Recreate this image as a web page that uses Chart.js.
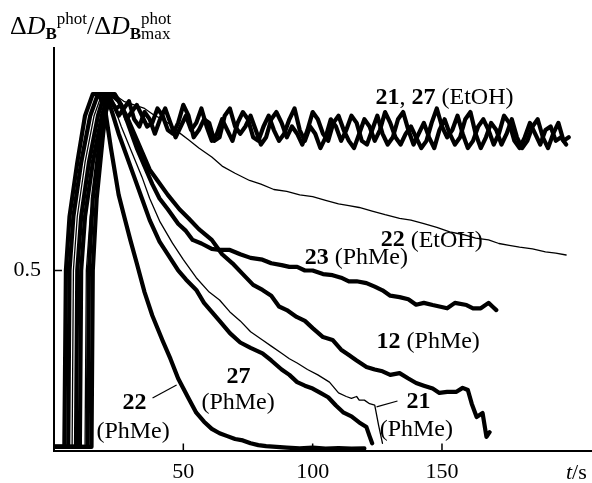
<!DOCTYPE html>
<html>
<head>
<meta charset="utf-8">
<script src="https://cdn.jsdelivr.net/npm/chart.js@4"></script>
<style>
  html, body { margin: 0; background: #fff; }
  #wrap { width: 592px; height: 483px; }
</style>
</head>
<body>
<div id="wrap"><canvas id="c"></canvas></div>
<script>
// tick values
const xTicks = [50, 100, 150];
const yTicks = [0.5];

// 22 (PhMe)
const t22PhMe = [0, 4, 4.6, 6, 9, 12, 15, 17, 19.5, 22, 25, 27.5, 29.5, 32, 35, 38, 42, 45, 48, 52, 55, 58, 61, 64, 67, 70, 73, 76, 79, 82, 86, 90, 95, 100, 105, 110, 115, 120];
const v22PhMe = [0.01, 0.01, 0.5, 0.65, 0.8, 0.93, 0.99, 0.99, 0.96, 0.84, 0.71, 0.64, 0.585, 0.52, 0.44, 0.375, 0.305, 0.255, 0.2, 0.145, 0.105, 0.08, 0.06, 0.048, 0.04, 0.032, 0.028, 0.02, 0.015, 0.012, 0.01, 0.008, 0.006, 0.008, 0.005, 0.007, 0.005, 0.006];

// 27 (PhMe)
const t27PhMe = [0, 5.5, 6, 7.5, 10.5, 14, 17, 19.5, 22, 25, 28, 31, 34, 37, 40.8, 44, 48, 51, 55, 58, 61, 64, 68, 72, 76, 80.6, 84, 88, 91, 94, 97, 100, 103, 106, 109, 112, 115, 118, 120.8, 122, 123];
const v27PhMe = [0.01, 0.01, 0.5, 0.65, 0.8, 0.93, 0.99, 0.99, 0.95, 0.88, 0.82, 0.76, 0.70, 0.64, 0.58, 0.545, 0.50, 0.475, 0.446, 0.41, 0.385, 0.36, 0.326, 0.30, 0.285, 0.27, 0.25, 0.225, 0.21, 0.19, 0.18, 0.172, 0.16, 0.148, 0.125, 0.105, 0.095, 0.078, 0.065, 0.04, 0.02];

// 21 (PhMe)
const t21PhMe = [0, 7, 7.5, 9, 12, 15.5, 18.5, 21, 23, 26, 30, 34, 37, 41, 45.8, 50, 55, 60, 64, 68, 72, 76, 80.6, 84, 88, 91, 94, 98, 102, 106.5, 110, 113, 115, 117, 118, 120, 122, 124, 125.5, 127];
const v21PhMe = [0.01, 0.01, 0.5, 0.65, 0.8, 0.93, 0.99, 0.99, 0.96, 0.9, 0.83, 0.76, 0.70, 0.635, 0.576, 0.53, 0.48, 0.44, 0.418, 0.385, 0.36, 0.33, 0.307, 0.29, 0.27, 0.255, 0.243, 0.225, 0.21, 0.19, 0.16, 0.15, 0.145, 0.15, 0.14, 0.14, 0.13, 0.126, 0.07, 0.02];

// 12 (PhMe)
const t12PhMe = [0, 8.5, 9, 10.5, 13.5, 17, 19.5, 22, 25, 28, 31, 34, 37, 40, 44, 48.5, 52, 56, 61, 65, 69, 73, 77, 80.6, 84, 87, 90, 93.8, 97, 100, 104, 107.7, 111, 114, 117, 120.8, 124, 127, 130, 133.6, 137, 140, 143, 146.4, 149, 152, 155.6, 158, 160, 161.5, 163.4, 165.7, 167.2, 168.4];
const v12PhMe = [0.01, 0.01, 0.5, 0.65, 0.8, 0.93, 0.99, 0.99, 0.97, 0.93, 0.88, 0.83, 0.78, 0.75, 0.71, 0.67, 0.645, 0.615, 0.585, 0.545, 0.52, 0.49, 0.46, 0.446, 0.43, 0.40, 0.39, 0.371, 0.36, 0.34, 0.315, 0.307, 0.28, 0.265, 0.25, 0.232, 0.225, 0.22, 0.21, 0.215, 0.2, 0.1875, 0.18, 0.172, 0.16, 0.163, 0.163, 0.174, 0.168, 0.13, 0.093, 0.104, 0.038, 0.051];

// 23 (PhMe)
const t23PhMe = [0, 10, 10.5, 12, 15, 18.5, 21, 23.5, 26, 29, 32, 35, 38, 40.8, 44, 48, 51, 53.6, 57, 61, 64, 68, 72, 76, 80.6, 84, 88, 91, 94, 97, 100, 104, 107.7, 111, 114, 117, 120.8, 124, 127, 130, 133.6, 137, 140, 143, 146.4, 149, 152, 155, 159.5, 162, 165, 168, 169.5, 171];
const v23PhMe = [0.01, 0.01, 0.5, 0.65, 0.8, 0.93, 0.99, 0.99, 0.96, 0.9, 0.84, 0.79, 0.74, 0.70, 0.67, 0.63, 0.61, 0.585, 0.575, 0.56, 0.557, 0.557, 0.545, 0.535, 0.53, 0.52, 0.515, 0.51, 0.51, 0.50, 0.50, 0.49, 0.487, 0.48, 0.47, 0.47, 0.465, 0.455, 0.445, 0.43, 0.426, 0.42, 0.405, 0.41, 0.404, 0.4, 0.395, 0.41, 0.404, 0.395, 0.395, 0.41, 0.4, 0.39];

// 22 (EtOH)
const t22EtOH = [0, 12, 12.5, 14, 17, 20, 23, 27, 31, 35, 39, 42, 45, 48, 52, 56, 61, 65, 70, 75.6, 80, 85, 90, 95, 100, 105, 110, 114, 118, 123, 128, 133.6, 138, 143, 148, 153, 158, 163, 168, 172, 176, 180, 185, 190, 194, 198];
const v22EtOH = [0.01, 0.01, 0.5, 0.65, 0.8, 0.93, 0.99, 0.97, 0.96, 0.95, 0.93, 0.92, 0.905, 0.885, 0.863, 0.84, 0.815, 0.79, 0.77, 0.75, 0.74, 0.725, 0.72, 0.71, 0.705, 0.695, 0.685, 0.68, 0.675, 0.665, 0.655, 0.645, 0.64, 0.63, 0.62, 0.607, 0.6, 0.59, 0.585, 0.575, 0.57, 0.565, 0.56, 0.552, 0.548, 0.543];

// 21 (EtOH)
const t21EtOH = [0, 13, 13.5, 15, 18, 20.5,
  22, 24, 26, 28, 30, 32, 34, 36, 38, 40, 42, 44, 46, 48, 50, 52, 54, 56, 58, 60, 62, 64, 66, 68, 70, 72, 74, 76, 78, 80,
  82, 84, 86, 88, 90, 92, 94, 96, 98, 100, 102, 104, 106, 108, 110, 112, 114, 116, 118, 120, 122, 124, 126, 128, 130, 132,
  134, 136, 138, 140, 142, 144, 146, 148, 150, 152, 154, 156, 158, 160, 162, 164, 166, 168, 170, 172, 174, 176, 178, 180,
  182, 184, 186, 188, 190, 192, 194, 196, 198];
const v21EtOH = [0.01, 0.01, 0.5, 0.7, 0.88, 0.99,
  0.97, 0.95, 0.96, 0.92, 0.94, 0.96, 0.93, 0.90, 0.91, 0.95,
  0.93, 0.89, 0.88, 0.91, 0.96, 0.93, 0.87, 0.89, 0.92, 0.91,
  0.86, 0.87, 0.93, 0.95, 0.90, 0.88, 0.90, 0.93, 0.89, 0.85,
  0.87, 0.92, 0.94, 0.91, 0.87, 0.90, 0.88, 0.85, 0.89, 0.94,
  0.92, 0.88, 0.86, 0.91, 0.93, 0.89, 0.86, 0.84, 0.88, 0.92,
  0.90, 0.86, 0.89, 0.94, 0.91, 0.87, 0.85, 0.88, 0.90, 0.87,
  0.84, 0.86, 0.91, 0.95, 0.90, 0.87, 0.89, 0.93, 0.88, 0.84,
  0.86, 0.90, 0.92, 0.89, 0.85, 0.88, 0.93, 0.91, 0.86, 0.84,
  0.87, 0.91, 0.88, 0.85, 0.89, 0.90, 0.86, 0.87, 0.85];

// 27 (EtOH)
const t27EtOH = [0, 14.5, 15, 16.5, 19, 21,
  23, 25, 27, 29, 31, 33, 35, 37, 39, 41, 43, 45, 47, 49, 51, 53, 55, 57, 59, 61, 63, 65, 67, 69, 71, 73, 75, 77, 79, 81,
  83, 85, 87, 89, 91, 93, 95, 97, 99, 101, 103, 105, 107, 109, 111, 113, 115, 117, 119, 121, 123, 125, 127, 129, 131, 133,
  135, 137, 139, 141, 143, 145, 147, 149, 151, 153, 155, 157, 159, 161, 163, 165, 167, 169, 171, 173, 175, 177, 179, 181,
  183, 185, 187, 189, 191, 193, 195, 197, 199];
const v27EtOH = [0.01, 0.01, 0.5, 0.7, 0.88, 0.99,
  0.96, 0.93, 0.95, 0.97, 0.92, 0.90, 0.94, 0.92, 0.88, 0.92,
  0.95, 0.91, 0.87, 0.90, 0.93, 0.89, 0.91, 0.95, 0.90, 0.86,
  0.88, 0.92, 0.89, 0.86, 0.91, 0.94, 0.92, 0.87, 0.86, 0.90,
  0.93, 0.89, 0.86, 0.88, 0.92, 0.95, 0.89, 0.86, 0.90, 0.88,
  0.84, 0.87, 0.92, 0.90, 0.86, 0.89, 0.93, 0.91, 0.86, 0.85,
  0.89, 0.93, 0.88, 0.85, 0.87, 0.92, 0.94, 0.89, 0.85, 0.88,
  0.91, 0.87, 0.84, 0.89, 0.92, 0.88, 0.85, 0.87, 0.92, 0.94,
  0.88, 0.84, 0.87, 0.91, 0.89, 0.85, 0.88, 0.92, 0.87, 0.84,
  0.86, 0.90, 0.92, 0.87, 0.84, 0.88, 0.91, 0.86, 0.87];

const serif = "'Liberation Serif', 'Times New Roman', serif";

// curve labels, anchored in data units (left edge, vertical middle)
const notes = [
  { t: 124.3, v: 0.979, runs: [['21', true], [', ', false], ['27', true], [' (EtOH)', false]] },
  { t: 126.3, v: 0.584, runs: [['22', true], [' (EtOH)', false]] },
  { t: 96.9, v: 0.535, runs: [['23', true], [' (PhMe)', false]] },
  { t: 124.7, v: 0.301, runs: [['12', true], [' (PhMe)', false]] },
  { t: 136.3, v: 0.135, runs: [['21', true]] },
  { t: 125.9, v: 0.057, runs: [['(PhMe)', false]] },
  { t: 66.7, v: 0.204, runs: [['27', true]] },
  { t: 57.0, v: 0.132, runs: [['(PhMe)', false]] },
  { t: 26.5, v: 0.132, runs: [['22', true]] },
  { t: 16.4, v: 0.051, runs: [['(PhMe)', false]] }
];
const leaders = [
  [[38.1, 0.146], [47.4, 0.182]],
  [[124.7, 0.121], [132.8, 0.1375]]
];

function pts(t, v) {
  return t.map((x, i) => ({ x: x, y: v[i] }));
}
function thick(t, v) {
  const d = pts(t, v);
  return [
    { data: d, borderColor: '#000', borderWidth: 4.2 },
    { data: d, borderColor: '#ccc', borderWidth: 1.2, borderDash: [1.5, 2.5] }
  ];
}
function thin(t, v) {
  return [{ data: pts(t, v), borderColor: '#000', borderWidth: 1.3 }];
}

function drawRuns(ctx, x, y, runs, size) {
  runs.forEach(([text, bold]) => {
    ctx.font = (bold ? 'bold ' : '') + size + 'px ' + serif;
    ctx.fillText(text, x, y);
    x += ctx.measureText(text).width;
  });
  return x;
}

const annotate = {
  id: 'annotate',
  afterDraw(chart) {
    const ctx = chart.ctx;
    const xs = chart.scales.x, ys = chart.scales.y;
    const area = chart.chartArea;
    ctx.save();
    ctx.fillStyle = '#000';
    ctx.strokeStyle = '#000';

    // inward tick marks
    ctx.lineWidth = 1.5;
    ctx.beginPath();
    xTicks.forEach(v => {
      const px = xs.getPixelForValue(v);
      ctx.moveTo(px, area.bottom);
      ctx.lineTo(px, area.bottom - 7);
    });
    yTicks.forEach(v => {
      const py = ys.getPixelForValue(v);
      ctx.moveTo(area.left, py);
      ctx.lineTo(area.left + 8, py);
    });
    ctx.stroke();

    // leader lines
    ctx.lineWidth = 1.2;
    leaders.forEach(([a, b]) => {
      ctx.beginPath();
      ctx.moveTo(xs.getPixelForValue(a[0]), ys.getPixelForValue(a[1]));
      ctx.lineTo(xs.getPixelForValue(b[0]), ys.getPixelForValue(b[1]));
      ctx.stroke();
    });

    // curve labels
    ctx.textBaseline = 'middle';
    ctx.textAlign = 'left';
    notes.forEach(n => {
      drawRuns(ctx, xs.getPixelForValue(n.t), ys.getPixelForValue(n.v), n.runs, 24);
    });

    // axis titles
    ctx.textBaseline = 'alphabetic';
    ctx.font = 'italic 22px ' + serif;
    ctx.fillText('t', 566, 479);
    const w = ctx.measureText('t').width;
    ctx.font = '22px ' + serif;
    ctx.fillText('/s', 566 + w, 479);

    let x = 10;
    const base = 34;
    const part = (txt, font, dy) => {
      ctx.font = font;
      ctx.fillText(txt, x, base + dy);
      return ctx.measureText(txt).width;
    };
    x += part('\u0394', '26px ' + serif, 0);
    x += part('D', 'italic 26px ' + serif, 0);
    x += part('B', 'bold 17px ' + serif, 5);
    x += part('phot', '17px ' + serif, -10);
    x += part('/', '26px ' + serif, 0);
    x += part('\u0394', '26px ' + serif, 0);
    x += part('D', 'italic 26px ' + serif, 0);
    x += part('B', 'bold 17px ' + serif, 5);
    part('phot', '17px ' + serif, -10);
    part('max', '17px ' + serif, 5);
    ctx.restore();
  }
};

new Chart(document.getElementById('c'), {
  type: 'line',
  data: {
    datasets: [
      ...thick(t21EtOH, v21EtOH),
      ...thick(t27EtOH, v27EtOH),
      ...thin(t22EtOH, v22EtOH),
      ...thick(t23PhMe, v23PhMe),
      ...thick(t12PhMe, v12PhMe),
      ...thin(t21PhMe, v21PhMe),
      ...thick(t27PhMe, v27PhMe),
      ...thick(t22PhMe, v22PhMe)
    ]
  },
  options: {
    responsive: true,
    maintainAspectRatio: false,
    animation: false,
    devicePixelRatio: 1,
    layout: { padding: { top: 48, left: 0, right: 0, bottom: 0 } },
    elements: {
      point: { radius: 0 },
      line: { tension: 0, fill: false, borderJoinStyle: 'round', borderCapStyle: 'round' }
    },
    plugins: {
      legend: { display: false },
      tooltip: { enabled: false }
    },
    scales: {
      x: {
        type: 'linear',
        min: 0,
        max: 208,
        grid: { display: false },
        border: { display: true, color: '#000', width: 2 },
        ticks: { color: '#000', font: { family: serif, size: 22 }, padding: 1, maxRotation: 0 },
        afterBuildTicks: s => { s.ticks = xTicks.map(v => ({ value: v })); },
        afterFit: s => { s.height = 32.5; }
      },
      y: {
        min: 0,
        max: 1.118,
        grid: { display: false },
        border: { display: true, color: '#000', width: 2 },
        ticks: { color: '#000', font: { family: serif, size: 22 }, padding: 5 },
        afterBuildTicks: s => { s.ticks = yTicks.map(v => ({ value: v })); },
        afterFit: s => { s.width = 54; }
      }
    }
  },
  plugins: [annotate]
});
</script>
</body>
</html>
